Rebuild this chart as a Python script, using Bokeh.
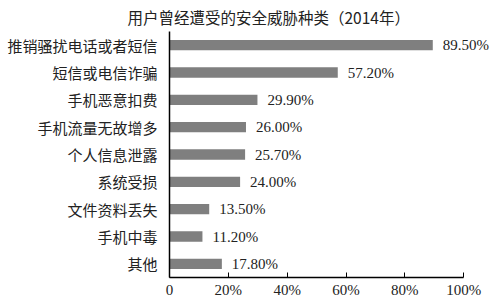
from bokeh.plotting import figure
from bokeh.models import FactorRange, FixedTicker, Title, ColumnDataSource, LabelSet
from bokeh.embed import file_html
from bokeh.resources import INLINE

categories = ["推销骚扰电话或者短信", "短信或电信诈骗", "手机恶意扣费", "手机流量无故增多",
              "个人信息泄露", "系统受损", "文件资料丢失", "手机中毒", "其他"]
values = [89.5, 57.2, 29.9, 26.0, 25.7, 24.0, 13.5, 11.2, 17.8]
x_ticks = [0, 20, 40, 60, 80, 100]
x_tick_labels = ["0", "20%", "40%", "60%", "80%", "100%"]

src = ColumnDataSource(dict(cat=categories, val=values,
                            lbl=["%.2f%%" % v for v in values]))

yr = FactorRange(factors=list(reversed(categories)), range_padding=0)
p = figure(width=500, height=306, y_range=yr, x_range=(0, 111.5),
           output_backend="svg", toolbar_location=None,
           min_border_left=169, min_border_right=3, min_border_top=0,
           min_border_bottom=29, outline_line_color=None,
           border_fill_color="white", background_fill_color="white")

title = Title(text="用户曾经遭受的安全威胁种类（2014年）", align="left",
              text_font="Noto Sans CJK SC", text_font_size="15.5px",
              text_font_style="normal", text_color="#222222", offset=-42,
              standoff=7)
p.add_layout(title, "above")

p.hbar(y="cat", right="val", left=0, height=0.38, source=src,
       color="#7f7f7f", line_color=None)
labels = LabelSet(x="val", y="cat", text="lbl", source=src, x_offset=10,
                  text_baseline="middle", text_align="left",
                  text_font="Liberation Serif", text_font_size="15px",
                  text_color="#222222")
p.add_layout(labels)

p.xgrid.visible = False
p.ygrid.visible = False

p.xaxis.ticker = FixedTicker(ticks=x_ticks)
p.xaxis.bounds = (x_ticks[0], x_ticks[-1])
p.xaxis.major_label_overrides = {t: l for t, l in zip(x_ticks, x_tick_labels)}
p.xaxis.minor_tick_line_color = None
p.xaxis.major_tick_in = 5
p.xaxis.major_tick_out = 0
p.xaxis.axis_line_width = 1.5
p.xaxis.axis_line_color = "black"
p.xaxis.major_tick_line_color = "black"
p.xaxis.major_label_text_font = "Liberation Serif"
p.xaxis.major_label_text_font_size = "15px"
p.xaxis.major_label_text_color = "#222222"
p.xaxis.major_label_standoff = 4

p.yaxis.major_tick_line_color = None
p.yaxis.minor_tick_line_color = None
p.yaxis.axis_line_width = 1.5
p.yaxis.axis_line_color = "black"
p.yaxis.major_label_text_font = "Noto Sans CJK SC"
p.yaxis.major_label_text_font_size = "15px"
p.yaxis.major_label_text_color = "#222222"
p.yaxis.major_label_standoff = 6

open("out.html", "w").write(file_html(p, INLINE))
